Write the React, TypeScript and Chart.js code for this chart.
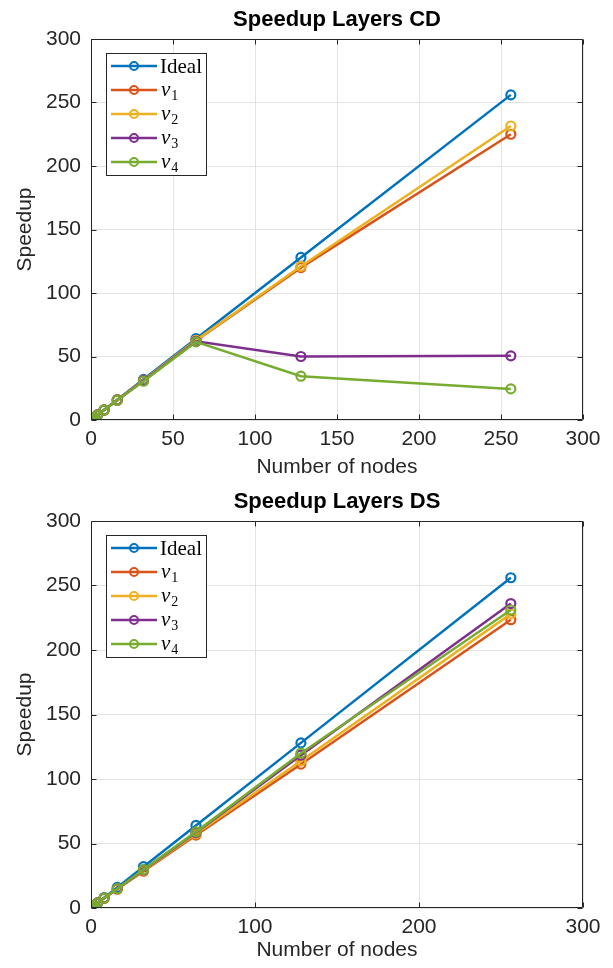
import React, { useEffect, useRef } from "react";
import { Chart, registerables } from "chart.js";
Chart.register(...registerables);

const nodes = [1, 2, 4, 8, 16, 32, 64, 128, 256];
const idealSpeedup = [1, 2, 4, 8, 16, 32, 64, 128, 256];

const v1CD = [1, 2, 4, 7.9, 15.8, 31.2, 62.5, 120, 225];
const v2CD = [1, 2, 4, 7.9, 15.8, 31.3, 62.7, 121, 231.5];
const v3CD = [1, 2, 4, 7.8, 15.6, 31, 62, 50, 50.5];
const v4CD = [1, 2, 3.9, 7.8, 15.5, 30.5, 61.5, 34.5, 24.5];

const v1DS = [1, 1.9, 3.8, 7.5, 14.6, 28.5, 56.5, 111.5, 223.5];
const v2DS = [1, 1.9, 3.8, 7.6, 14.8, 29, 57.5, 114, 228];
const v3DS = [1, 2, 3.9, 7.7, 15, 29.5, 58.5, 118.5, 236];
const v4DS = [1, 2, 3.9, 7.7, 15, 29.8, 59, 120, 231];

const seriesLabels = ["Ideal", "v1", "v2", "v3", "v4"];
const seriesColors = ["#0072BD", "#D95319", "#EDB120", "#7E2F8E", "#77AC30"];

const yTicks = [0, 50, 100, 150, 200, 250, 300];
const xTicksCD = [0, 50, 100, 150, 200, 250, 300];
const xTicksDS = [0, 100, 200, 300];

const AXIS = "#262626";
const SANS = "'Liberation Sans', Arial, sans-serif";
const SERIF = "'Liberation Serif', 'DejaVu Serif', serif";

type Cfg = {
  title: string;
  series: number[][];
  xTicks: number[];
  xStep: number;
  padTop: number;
  xHeight: number;
  titleY: number;
  xTitleY: number;
};

function makeChart(canvas: HTMLCanvasElement, cfg: Cfg) {
  const overlay = {
    id: "matlabOverlay",
    afterDatasetsDraw(chart: any) {
      const ctx = chart.ctx as CanvasRenderingContext2D;
      const ca = chart.chartArea;
      const xs = chart.scales.x;
      const ys = chart.scales.y;
      ctx.save();
      // box
      ctx.strokeStyle = AXIS;
      ctx.lineWidth = 1;
      const L = Math.round(ca.left) + 0.5;
      const R = Math.round(ca.right) - 0.5;
      const T = Math.round(ca.top) + 0.5;
      const B = Math.round(ca.bottom) - 0.5;
      ctx.beginPath();
      ctx.rect(L, T, R - L, B - T);
      ctx.stroke();
      // inward ticks
      ctx.beginPath();
      cfg.xTicks.forEach((v) => {
        const px = Math.round(xs.getPixelForValue(v)) + 0.5;
        ctx.moveTo(px, B);
        ctx.lineTo(px, B - 5);
        ctx.moveTo(px, T);
        ctx.lineTo(px, T + 5);
      });
      yTicks.forEach((v) => {
        const py = Math.round(ys.getPixelForValue(v)) + 0.5;
        ctx.moveTo(L, py);
        ctx.lineTo(L + 5, py);
        ctx.moveTo(R, py);
        ctx.lineTo(R - 5, py);
      });
      ctx.stroke();

      // title
      ctx.fillStyle = "#000";
      ctx.font = `bold 22px ${SANS}`;
      ctx.textAlign = "center";
      ctx.textBaseline = "middle";
      ctx.fillText(cfg.title, (ca.left + ca.right) / 2, cfg.titleY);

      // axis titles
      ctx.fillStyle = AXIS;
      ctx.font = `21px ${SANS}`;
      ctx.fillText("Number of nodes", (ca.left + ca.right) / 2, cfg.xTitleY);
      ctx.save();
      ctx.translate(25, (ca.top + ca.bottom) / 2);
      ctx.rotate(-Math.PI / 2);
      ctx.fillText("Speedup", 0, 0);
      ctx.restore();

      // legend
      const bx = Math.round(ca.left) + 15;
      const by = Math.round(ca.top) + 14;
      const bw = 100;
      const bh = 122;
      ctx.fillStyle = "#fff";
      ctx.fillRect(bx, by, bw, bh);
      ctx.strokeStyle = AXIS;
      ctx.lineWidth = 1;
      ctx.strokeRect(bx + 0.5, by + 0.5, bw, bh);
      seriesLabels.forEach((lab, i) => {
        const y = by + 13 + i * 24;
        ctx.strokeStyle = seriesColors[i];
        ctx.lineWidth = 2.5;
        ctx.beginPath();
        ctx.moveTo(bx + 5, y);
        ctx.lineTo(bx + 51, y);
        ctx.stroke();
        ctx.lineWidth = 2;
        ctx.beginPath();
        ctx.arc(bx + 28, y, 4, 0, Math.PI * 2);
        ctx.stroke();
        ctx.fillStyle = "#000";
        ctx.textAlign = "left";
        ctx.textBaseline = "middle";
        if (i === 0) {
          ctx.font = `21px ${SERIF}`;
          ctx.fillText(lab, bx + 54, y + 1);
        } else {
          ctx.font = `italic 21px ${SERIF}`;
          ctx.fillText("v", bx + 55, y);
          const w = ctx.measureText("v").width;
          ctx.font = `14px ${SERIF}`;
          ctx.fillText(lab.slice(1), bx + 56 + w, y + 6);
        }
      });
      ctx.restore();
    },
  };

  return new Chart(canvas, {
    type: "line",
    data: {
      datasets: cfg.series.map((vals, i) => ({
        label: seriesLabels[i],
        data: nodes.map((n, k) => ({ x: n, y: vals[k] })),
        borderColor: seriesColors[i],
        backgroundColor: "transparent",
        pointBorderColor: seriesColors[i],
        pointBackgroundColor: "transparent",
        borderWidth: 2.5,
        pointRadius: 4.5,
        pointBorderWidth: 2.2,
        pointHoverRadius: 4.5,
        tension: 0,
        order: 5 - i,
      })),
    },
    options: {
      responsive: false,
      animation: false,
      events: [],
      layout: { padding: { left: 0, right: 30, top: cfg.padTop, bottom: 0 } },
      plugins: {
        legend: { display: false },
        title: { display: false },
        tooltip: { enabled: false },
      },
      scales: {
        x: {
          type: "linear",
          min: 0,
          max: 300,
          afterFit: (s: any) => {
            s.height = cfg.xHeight;
          },
          ticks: {
            stepSize: cfg.xStep,
            color: AXIS,
            font: { family: SANS, size: 21 },
            padding: 7,
            maxRotation: 0,
          },
          grid: { color: "#e3e3e3", drawTicks: false },
          border: { display: false },
        },
        y: {
          type: "linear",
          min: 0,
          max: 300,
          afterFit: (s: any) => {
            s.width = 91;
          },
          ticks: {
            stepSize: 50,
            color: AXIS,
            font: { family: SANS, size: 21 },
            padding: 10,
          },
          grid: { color: "#e3e3e3", drawTicks: false },
          border: { display: false },
        },
      },
    },
    plugins: [overlay],
  } as any);
}

export default function App() {
  const ref1 = useRef<HTMLCanvasElement>(null);
  const ref2 = useRef<HTMLCanvasElement>(null);
  useEffect(() => {
    const c1 = makeChart(ref1.current!, {
      title: "Speedup Layers CD",
      series: [idealSpeedup, v1CD, v2CD, v3CD, v4CD],
      xTicks: xTicksCD,
      xStep: 50,
      padTop: 39,
      xHeight: 64,
      titleY: 20,
      xTitleY: 467,
    });
    const c2 = makeChart(ref2.current!, {
      title: "Speedup Layers DS",
      series: [idealSpeedup, v1DS, v2DS, v3DS, v4DS],
      xTicks: xTicksDS,
      xStep: 100,
      padTop: 37,
      xHeight: 60,
      titleY: 18,
      xTitleY: 466,
    });
    return () => {
      c1.destroy();
      c2.destroy();
    };
  }, []);
  return (
    <div style={{ position: "absolute", left: 0, top: 0, width: 613, height: 968, background: "#fff" }}>
      <canvas ref={ref1} width={613} height={484} style={{ display: "block", width: 613, height: 484 }} />
      <canvas ref={ref2} width={613} height={484} style={{ display: "block", width: 613, height: 484 }} />
    </div>
  );
}
